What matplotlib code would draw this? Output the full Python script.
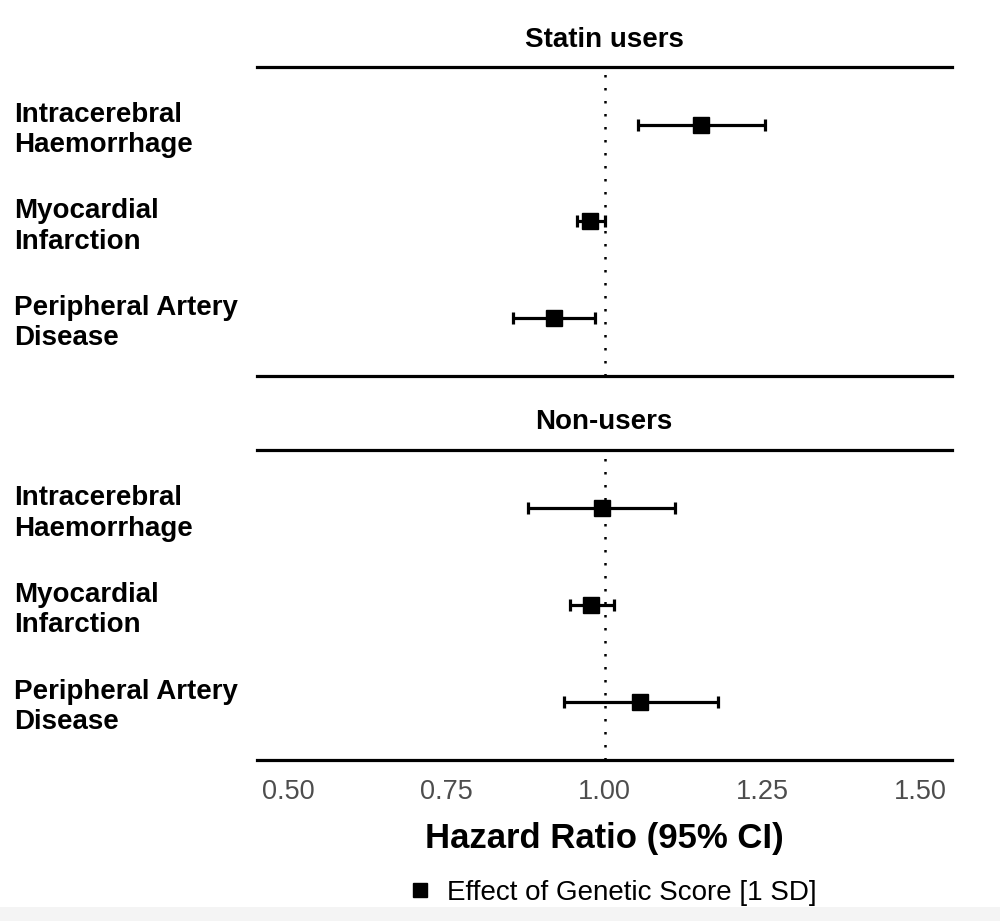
import matplotlib
matplotlib.use("Agg")
import matplotlib.pyplot as plt
from matplotlib.lines import Line2D
import matplotlib.patches as mpatches

plt.rcParams['font.family'] = ['Liberation Sans', 'DejaVu Sans']

outcomes = ["Intracerebral\nHaemorrhage", "Myocardial\nInfarction", "Peripheral Artery\nDisease"]
groups = ["Statin users", "Non-users"]

statin_hr = [1.152, 0.977, 0.920]
statin_lo = [1.053, 0.957, 0.855]
statin_hi = [1.254, 1.000, 0.985]

non_hr = [0.996, 0.979, 1.056]
non_lo = [0.879, 0.946, 0.936]
non_hi = [1.111, 1.015, 1.179]

xticks = [0.50, 0.75, 1.00, 1.25, 1.50]
xtick_labels = ["0.50", "0.75", "1.00", "1.25", "1.50"]
xlabel = "Hazard Ratio (95% CI)"
legend_label = "Effect of Genetic Score [1 SD]"

W, H = 1000, 921
fig = plt.figure(figsize=(W / 100, H / 100), dpi=100)

# light grey band at the very bottom
fig.patches.append(mpatches.Rectangle((0, 0), 1, (H - 907) / H, transform=fig.transFigure,
                                      facecolor="#f4f4f4", edgecolor="none", zorder=-10))

left = 257 / W
width = (952 - 257) / W
panels = [(67, 376), (450, 760)]
data = [(statin_hr, statin_lo, statin_hi), (non_hr, non_lo, non_hi)]
strip_y = [40, 422]

for i, ((top, bot), (hr, lo, hi)) in enumerate(zip(panels, data)):
    ax = fig.add_axes([left, 1 - bot / H, width, (bot - top) / H])
    ypos = [1, 2, 3]
    ax.axvline(1.0, color="black", linestyle=(0, (1.0, 4.2)), linewidth=1.8, zorder=1)
    xerr = [[h - l for h, l in zip(hr, lo)], [u - h for h, u in zip(hr, hi)]]
    ax.errorbar(hr, ypos, xerr=xerr, fmt="s", color="black", markersize=11,
                elinewidth=2.3, capsize=4.5, capthick=2.3, zorder=3)
    ax.set_xlim(0.45, 1.55)
    ax.set_ylim(3.6, 0.4)
    ax.set_yticks(ypos)
    ax.set_yticklabels(outcomes, fontsize=20, fontweight="bold", ha="left",
                       linespacing=1.22)
    ax.tick_params(axis="y", length=0, pad=(257 - 14) * 72 / 100)
    for s in ["left", "right"]:
        ax.spines[s].set_visible(False)
    for s in ["top", "bottom"]:
        ax.spines[s].set_linewidth(2.3)
    ax.set_xticks(xticks)
    if i == 0:
        ax.set_xticklabels([])
        ax.tick_params(axis="x", length=0)
    else:
        ax.set_xticklabels(xtick_labels, fontsize=19.5, color="#4d4d4d")
        ax.tick_params(axis="x", length=0, pad=14)
        ax.set_xlabel(xlabel, fontsize=25, fontweight="bold", labelpad=12)
    fig.text(604 / W, 1 - strip_y[i] / H, groups[i], fontsize=20, fontweight="bold",
             ha="center", va="center")

handle = Line2D([], [], marker="s", linestyle="none", color="black", markersize=10)
fig.legend([handle], [legend_label], loc="center", bbox_to_anchor=(612 / W, 1 - 893 / H),
           frameon=False, fontsize=20, handletextpad=0.5, handlelength=0.9)

fig.savefig("out.png", dpi=100)
